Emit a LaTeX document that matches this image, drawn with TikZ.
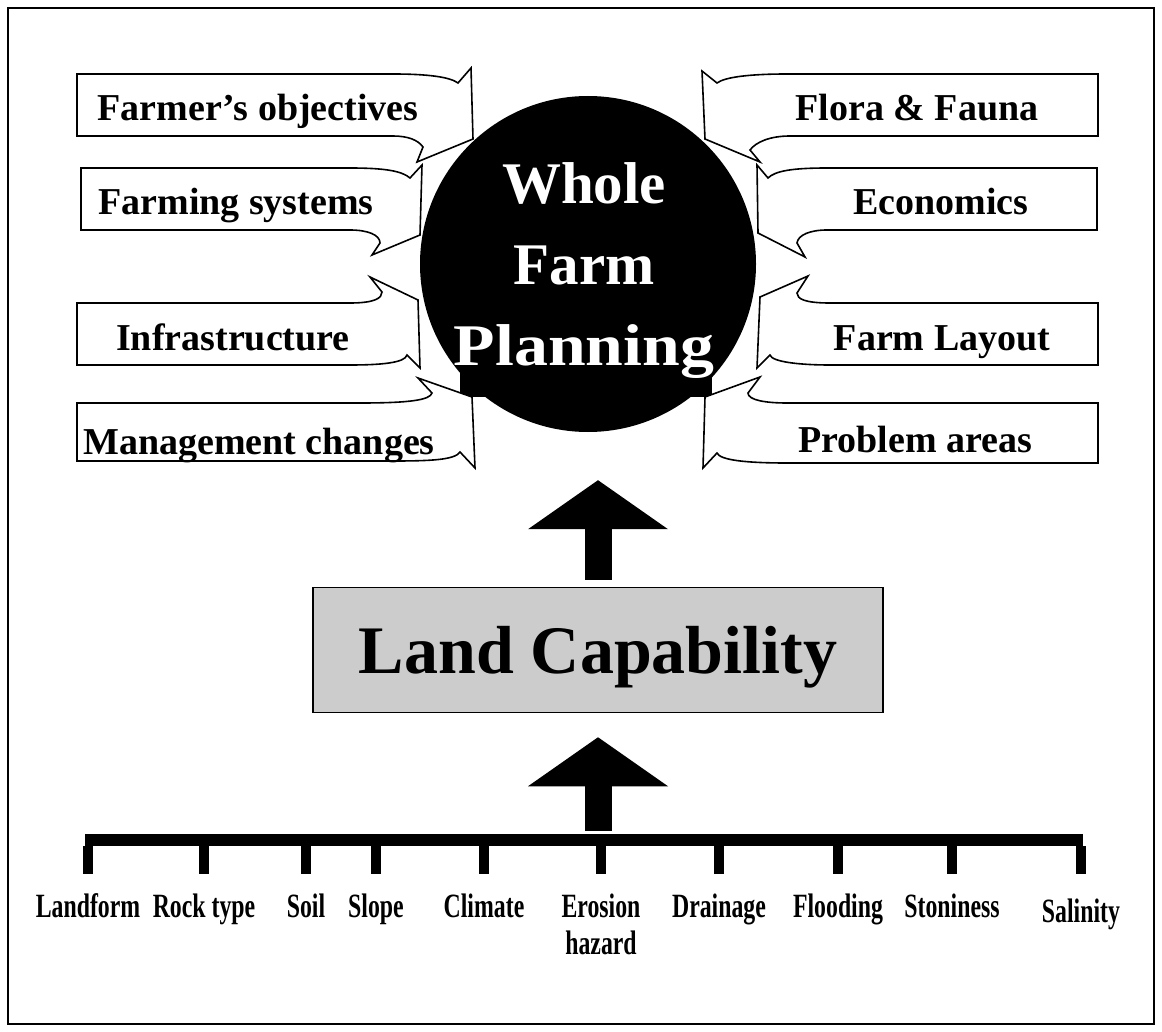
\documentclass[tikz,border=0pt]{standalone}
\usepackage{fontspec}
\setmainfont{Liberation Serif}
\newfontfamily\narrowserif{Liberation Serif}[FakeStretch=0.7]
\newfontfamily\wideserif{Liberation Serif}[FakeStretch=1.15]
\usetikzlibrary{arrows.meta}

\begin{document}
\begin{tikzpicture}[x=1pt,y=-1pt,
    callout/.style={draw,fill=white,line width=1.6pt,line join=miter},
    calltext/.style={anchor=base,font=\bfseries\fontsize{38}{44}\selectfont},
    factor/.style={anchor=base,align=center,inner sep=0pt,font=\narrowserif\bfseries\fontsize{34}{37}\selectfont},
    tick/.style={line width=10pt},
    fatarrow/.style={line width=27pt,-{Triangle[length=49pt,width=140pt,line width=0pt]}}]
\useasboundingbox (0,0) rectangle (1162,1032);
\draw[line width=2pt] (8,8) rectangle (1154,1024);

% the black planning disc
\fill (460,200) rectangle (712,397);
\node[circle,fill=black,minimum size=336pt,inner sep=0pt] (wfp) at (588,264) {};
\node[text=white,align=center,font=\bfseries\fontsize{59}{81}\selectfont] (wfptext) at (584,271) {Whole\\Farm\\{\wideserif Planning}};

% left callouts
\draw[callout] (77,74) -- (393,74) .. controls (428,74) and (450,77) .. (458,83) -- (471,68) -- (473,139) -- (417,162) -- (423,147) .. controls (418,140) and (408,136) .. (393,136) -- (77,136) -- cycle;
\node[calltext] (obj) at (258,121) {Farmer’s objectives};
\draw[callout] (81,168) -- (350,168) .. controls (385,168) and (402,171) .. (410,178) -- (422,165) -- (420,235) -- (372,255) -- (380,243) .. controls (380,235) and (368,230) .. (350,230) -- (81,230) -- cycle;
\node[calltext] (sys) at (236,215) {Farming systems};
\draw[callout] (77,303) -- (350,303) .. controls (375,303) and (382,298) .. (382,292) -- (370,277) -- (418,300) -- (420,368) -- (407,355) .. controls (405,363) and (380,365) .. (350,365) -- (77,365) -- cycle;
\node[calltext] (infra) at (233,350) {Infrastructure};
\draw[callout] (77,403) -- (360,403) .. controls (410,403) and (430,400) .. (432,393) -- (418,378) -- (472,397) -- (475,468) -- (460,452) .. controls (455,460) and (430,461) .. (393,461) -- (77,461) -- cycle;
\node[calltext] (mgmt) at (259,454) {Management changes};

% right callouts
\draw[callout] (1098,74) -- (787,74) .. controls (750,74) and (725,77) .. (717,83) -- (702,71) -- (705,139) -- (760,162) -- (750,150) .. controls (756,142) and (770,136) .. (790,136) -- (1098,136) -- cycle;
\node[calltext] (flora) at (917,121) {Flora \& Fauna};
\draw[callout] (1097,168) -- (827,168) .. controls (792,168) and (775,171) .. (768,178) -- (757,165) -- (758,233) -- (805,257) -- (797,243) .. controls (798,235) and (810,230) .. (827,230) -- (1097,230) -- cycle;
\node[calltext] (econ) at (941,215) {Economics};
\draw[callout] (1098,303) -- (830,303) .. controls (805,303) and (797,299) .. (797,293) -- (808,276) -- (760,297) -- (757,368) -- (770,355) .. controls (772,362) and (800,365) .. (830,365) -- (1098,365) -- cycle;
\node[calltext] (layout) at (942,350) {Farm Layout};
\draw[callout] (1098,403) -- (787,403) .. controls (765,403) and (748,400) .. (748,393) -- (760,377) -- (705,397) -- (703,468) -- (717,453) .. controls (720,460) and (745,463) .. (787,463) -- (1098,463) -- cycle;
\node[calltext] (probs) at (915,452) {Problem areas};

% land capability
\node[draw,fill=black!20,line width=1.5pt,minimum width=570pt,minimum height=125pt,
      text height=56pt,text depth=10pt,font=\bfseries\fontsize{68}{80}\selectfont] (lc) at (598,650) {Land Capability};

% factor bar
\node[fill=black,inner sep=0pt,minimum width=998pt,minimum height=12pt] (bar) at (584,840) {};
\foreach \x/\y/\name/\txt in {88/917/landform/Landform, 204/917/rock/Rock type, 306/917/soil/Soil,
    376/917/slope/Slope, 484/917/climate/Climate, 601/954/erosion/{Erosion\\hazard},
    719/917/drainage/Drainage, 838/917/flooding/Flooding, 952/917/stoniness/Stoniness,
    1081/922/salinity/Salinity}{
  \node[factor] (\name) at (\x,\y) {\txt};
  \draw[tick] (\name |- bar.south) -- +(0,28);
}

\draw[fatarrow,shorten <=3pt,shorten >=24pt] (lc.south |- bar.north) -- (lc.south);
\draw[fatarrow,shorten <=7pt,shorten >=48pt] (lc.north) -- (lc.north |- wfp.south);
\end{tikzpicture}
\end{document}
